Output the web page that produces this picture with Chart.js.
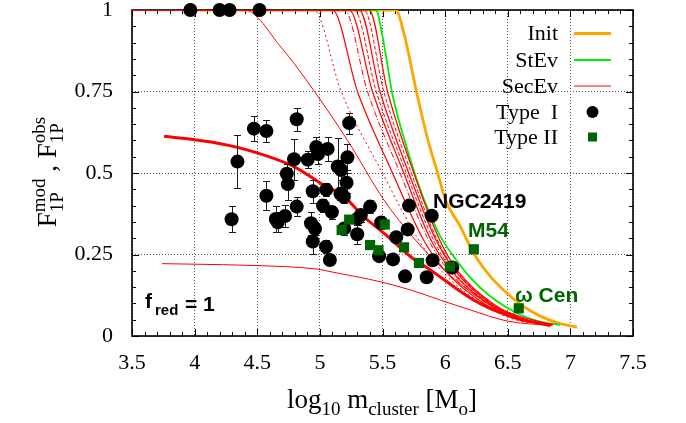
<!DOCTYPE html>
<html><head><meta charset="utf-8">
<script src="https://cdn.jsdelivr.net/npm/chart.js@4/dist/chart.umd.min.js"></script>
<style>html,body{margin:0;padding:0;background:#fff}canvas{display:block}</style>
</head><body>
<canvas id="c" width="686" height="423" style="width:686px;height:423px"></canvas>
<script>
// ---- tick labels ----
const xTickVals = [3.5, 4, 4.5, 5, 5.5, 6, 6.5, 7, 7.5];
const yTickVals = [0, 0.25, 0.5, 0.75, 1];

// ---- observations: Type I (black circles) ----
const type1X = [3.966,4.199,4.279,4.518,
 4.342,4.295,4.473,4.573,4.573,4.648,4.664,4.722,4.736,4.744,4.815,4.794,4.815,4.903,4.943,4.929,4.961,4.943,4.971,4.985,5.062,5.025,5.051,5.049,5.080,5.096,5.142,5.170,5.164,5.192,5.220,5.213,5.234,5.194,5.298,5.301,5.327,5.401,5.489,5.473,5.584,5.610,5.680,5.701,5.712,5.853,5.893,5.900,6.057];
const type1Y = [1,1,1,1,
 0.535,0.358,0.636,0.629,0.430,0.359,0.349,0.368,0.498,0.466,0.665,0.542,0.397,0.541,0.444,0.346,0.329,0.290,0.580,0.558,0.574,0.400,0.449,0.274,0.233,0.380,0.520,0.509,0.436,0.427,0.548,0.470,0.653,0.330,0.312,0.360,0.371,0.397,0.348,0.245,0.235,0.303,0.183,0.327,0.400,0.180,0.369,0.232,0.210];
const type1Err = [0,0,0,0,
 0.082,0.04,0.039,0.035,0.045,0.04,0.03,0.035,0.03,0.05,0.035,0.063,0.03,0.025,0.035,0.035,0.02,0.038,0.03,0.03,0.036,0.02,0.02,0.02,0.01,0.02,0.087,0.03,0.02,0.02,0.04,0.03,0.032,0.02,0.03,0.02,0.02,0.02,0.02,0,0,0,0,0,0,0,0,0,0];

// ---- observations: Type II (green squares) ----
const type2X = [5.174,5.234,5.518,5.401,5.468,5.672,5.791,6.038,6.229,6.588];
const type2Y = [0.325,0.357,0.342,0.279,0.263,0.272,0.224,0.213,0.266,0.085];

// ---- model curves ----
const initX = [4.0,5.606,5.672,5.771,5.86,5.94,6.004,6.123,6.229,6.362,6.495,6.627,6.76,6.893,7.053];
const initY = [1,1,0.927,0.75,0.605,0.50,0.4165,0.335,0.253,0.182,0.131,0.090,0.061,0.041,0.027];
const stevX = [4.0,5.447,5.50,5.58,5.70,5.81,5.89,5.964,6.07,6.2,6.35,6.575,6.75,6.92];
const stevY = [1,1,0.92,0.74,0.57,0.44,0.365,0.304,0.243,0.18,0.125,0.07,0.045,0.034];

const secThickX = [3.756,4.133,4.425,4.796,5.009,5.194,5.353,5.513,5.725,5.885,6.229,6.495,6.84];
const secThickY = [0.613,0.595,0.570,0.519,0.468,0.427,0.365,0.315,0.243,0.202,0.110,0.064,0.031];
const secLowX = [3.74,3.962,4.5,4.982,5.088,5.487,5.725,5.964,6.2,6.495,6.85];
const secLowY = [0.222,0.2205,0.216,0.205,0.197,0.166,0.141,0.110,0.08,0.046,0.032];
const secHighX = [3.5,4.398,4.69,4.955,5.221,5.513,5.75,6.0,6.3,6.6,6.86];
const secHighY = [1,1,0.886,0.751,0.600,0.4165,0.30,0.2,0.11,0.06,0.035];

const secLevels = [1,1,0.75,0.5,0.3,0.2,0.1,0.05,0.035];
const secB1X = [3.5,4.95,5.17,5.50,5.78,5.97,6.29,6.56,6.86];
const secB2X = [3.5,5.10,5.30,5.58,5.82,6.00,6.31,6.58,6.86];
const secB3X = [3.5,5.195,5.38,5.64,5.86,6.03,6.33,6.60,6.86];
const secB4X = [3.5,5.234,5.42,5.67,5.88,6.05,6.34,6.61,6.86];
const secB5X = [3.5,5.274,5.45,5.69,5.90,6.06,6.35,6.62,6.86];
const secB6X = [3.5,5.314,5.48,5.71,5.92,6.08,6.36,6.63,6.86];
const secB7X = [3.5,5.353,5.51,5.73,5.93,6.09,6.37,6.64,6.86];
const secB8X = [3.5,5.393,5.54,5.75,5.95,6.10,6.38,6.65,6.86];

const pts = (xs, ys) => xs.map((v, i) => ({x: v, y: ys[i]}));

const RED = '#ff0000', GREEN = '#00ee00', ORANGE = '#ffa500', DKGREEN = '#006400';
function curve(label, xs, ys, color, width, dash, order) {
  return {label, data: pts(xs, ys), showLine: true, borderColor: color, borderWidth: width,
    borderDash: dash || [], pointRadius: 0, cubicInterpolationMode: 'monotone', order, fill: false};
}

const datasets = [
  {label: 'Type II', data: pts(type2X, type2Y), pointStyle: 'rect', pointRadius: 7.2,
   backgroundColor: DKGREEN, borderWidth: 0, order: 0, clip: false},
  {label: 'Type I', data: pts(type1X, type1Y), pointStyle: 'circle', pointRadius: 7,
   backgroundColor: '#000', borderWidth: 0, order: 1, clip: false},
  curve('SecEv', secThickX, secThickY, RED, 3, null, 2),
  curve('SecEv lo', secLowX, secLowY, RED, 1, null, 2),
  curve('SecEv hi', secHighX, secHighY, RED, 1, null, 2),
  curve('SecEv b1', secB1X, secLevels, RED, 1, [2,3], 2),
  curve('SecEv b2', secB2X, secLevels, RED, 1.2, null, 2),
  curve('SecEv b3', secB3X, secLevels, RED, 1, [6,2,1,2], 2),
  curve('SecEv b4', secB4X, secLevels, RED, 1.2, null, 2),
  curve('SecEv b5', secB5X, secLevels, RED, 1, [4,2], 2),
  curve('SecEv b6', secB6X, secLevels, RED, 1.2, null, 2),
  curve('SecEv b7', secB7X, secLevels, RED, 1, [4,2], 2),
  curve('SecEv b8', secB8X, secLevels, RED, 1.2, null, 2),
  curve('StEv', stevX, stevY, GREEN, 1.8, null, 3),
  curve('Init', initX, initY, ORANGE, 2.8, null, 4)
];

const errBars = {
  id: 'errBars',
  beforeDatasetDraw(chart, args) {
    if (chart.data.datasets[args.index].label !== 'Type I') return;
    const {ctx, scales: {x, y}} = chart;
    ctx.save(); ctx.strokeStyle = '#1a1a1a'; ctx.lineWidth = 1;
    type1X.forEach((vx, i) => {
      const e = type1Err[i]; if (!e) return;
      const px = Math.round(x.getPixelForValue(vx)) + 0.5;
      const y1 = Math.round(y.getPixelForValue(type1Y[i] - e)) + 0.5;
      const y2 = Math.round(y.getPixelForValue(type1Y[i] + e)) + 0.5;
      ctx.beginPath();
      ctx.moveTo(px, y1); ctx.lineTo(px, y2);
      ctx.moveTo(px - 3.5, y1); ctx.lineTo(px + 3.5, y1);
      ctx.moveTo(px - 3.5, y2); ctx.lineTo(px + 3.5, y2);
      ctx.stroke();
    });
    ctx.restore();
  }
};

const frame = {
  id: 'frame',
  beforeDatasetsDraw(chart) {
    const {ctx, chartArea: a, scales: {x, y}} = chart;
    ctx.save(); ctx.strokeStyle = '#000'; ctx.lineWidth = 1;
    ctx.beginPath();
    for (let k = 0; k <= 40; k++) {
      const px = Math.round(x.getPixelForValue(3.5 + k * 0.1)) + 0.5;
      const L = (k % 5 === 0) ? 7 : 4;
      ctx.moveTo(px, a.bottom); ctx.lineTo(px, a.bottom - L);
      ctx.moveTo(px, a.top); ctx.lineTo(px, a.top + L);
    }
    for (let k = 0; k <= 20; k++) {
      const py = Math.round(y.getPixelForValue(k * 0.05)) + 0.5;
      const L = (k % 5 === 0) ? 7 : 4;
      ctx.moveTo(a.left, py); ctx.lineTo(a.left + L, py);
      ctx.moveTo(a.right, py); ctx.lineTo(a.right - L, py);
    }
    ctx.stroke();
    ctx.lineWidth = 1.6;
    ctx.strokeRect(a.left, a.top, a.right - a.left, a.bottom - a.top);
    ctx.restore();
  }
};

function drawParts(ctx, parts, x, y) {
  let w = 0;
  const widths = parts.map(p => {
    ctx.font = p.f;
    const ww = p.stack ? Math.max(ctx.measureText(p.stack[0]).width, ctx.measureText(p.stack[1]).width) : ctx.measureText(p.t).width;
    w += ww; return ww;
  });
  let cx = x - w / 2;
  parts.forEach((p, i) => {
    ctx.font = p.f;
    if (p.stack) {
      ctx.fillText(p.stack[0], cx, y - 11);
      ctx.fillText(p.stack[1], cx, y + 7);
    } else {
      ctx.fillText(p.t, cx, y + (p.dy || 0));
    }
    cx += widths[i];
  });
}

const texts = {
  id: 'texts',
  afterDraw(chart) {
    const {ctx} = chart;
    ctx.save();
    ctx.fillStyle = '#000'; ctx.textBaseline = 'alphabetic'; ctx.textAlign = 'left';
    const M = '27px "Liberation Serif"', S = '19px "Liberation Serif"';
    drawParts(ctx, [
      {t: 'log', f: M}, {t: '10', f: S, dy: 7}, {t: ' m', f: M}, {t: 'cluster', f: S, dy: 7},
      {t: ' [M', f: M}, {t: 'o', f: S, dy: 7}, {t: ']', f: M}], 382, 408);
    ctx.save(); ctx.translate(56, 172); ctx.rotate(-Math.PI / 2);
    drawParts(ctx, [
      {t: 'F', f: M}, {stack: ['mod', '1P'], f: S}, {t: ' , ', f: M},
      {t: 'F', f: M}, {stack: ['obs', '1P'], f: S}], 0, 0);
    ctx.restore();

    const LF = '22px "Liberation Serif"';
    ctx.font = LF; ctx.textAlign = 'right'; ctx.textBaseline = 'middle';
    const rows = [['Init', 33.5], ['StEv', 60], ['SecEv', 86], ['Type  I', 112], ['Type II', 137]];
    rows.forEach(r => ctx.fillText(r[0], 558, r[1] + 1));
    ctx.lineWidth = 3; ctx.strokeStyle = ORANGE;
    ctx.beginPath(); ctx.moveTo(574, 33.5); ctx.lineTo(611, 33.5); ctx.stroke();
    ctx.lineWidth = 2; ctx.strokeStyle = GREEN;
    ctx.beginPath(); ctx.moveTo(574, 60); ctx.lineTo(611, 60); ctx.stroke();
    ctx.lineWidth = 1.2; ctx.strokeStyle = RED;
    ctx.beginPath(); ctx.moveTo(574, 86); ctx.lineTo(611, 86); ctx.stroke();
    ctx.fillStyle = '#000';
    ctx.beginPath(); ctx.arc(592.5, 112, 6, 0, Math.PI * 2); ctx.fill();
    ctx.fillStyle = DKGREEN; ctx.fillRect(588, 132.5, 9, 9);

    ctx.textAlign = 'left'; ctx.textBaseline = 'alphabetic';
    ctx.font = 'bold 21px "Liberation Sans"'; ctx.fillStyle = '#000';
    ctx.fillText('NGC2419', 433, 208);
    ctx.fillStyle = DKGREEN;
    ctx.fillText('M54', 468, 237);
    ctx.fillText('\u03c9 Cen', 515, 302);
    ctx.fillStyle = '#000';
    ctx.font = 'bold 21px "Liberation Sans"'; ctx.fillText('f', 145, 308);
    ctx.font = 'bold 15px "Liberation Sans"'; ctx.fillText('red', 155, 315);
    ctx.font = 'bold 21px "Liberation Sans"'; ctx.fillText('= 1', 185, 311);
    ctx.restore();
  }
};

new Chart(document.getElementById('c'), {
  type: 'scatter',
  data: {datasets},
  options: {
    responsive: false, animation: false, devicePixelRatio: 1,
    layout: {padding: {top: 10, right: 53, left: 0, bottom: 0}},
    plugins: {legend: {display: false}, tooltip: {enabled: false}},
    scales: {
      x: {
        type: 'linear', min: 3.5, max: 7.5,
        afterBuildTicks: s => { s.ticks = xTickVals.map(v => ({value: v})); },
        afterFit: s => { s.height = 87; s.paddingLeft = 0; s.paddingRight = 0; },
        ticks: {padding: 14, color: '#000', font: {family: 'Liberation Serif', size: 22}, callback: v => String(v), maxRotation: 0},
        grid: {color: '#555', lineWidth: 1, drawTicks: false},
        border: {display: false, dash: [1, 2]}
      },
      y: {
        type: 'linear', min: 0, max: 1,
        afterBuildTicks: s => { s.ticks = yTickVals.map(v => ({value: v})); },
        afterFit: s => { s.width = 132; s.paddingTop = 0; s.paddingBottom = 0; },
        ticks: {padding: 19, color: '#000', font: {family: 'Liberation Serif', size: 22}, callback: v => String(v)},
        grid: {color: '#555', lineWidth: 1, drawTicks: false},
        border: {display: false, dash: [1, 2]}
      }
    }
  },
  plugins: [errBars, frame, texts]
});
</script>
</body></html>
